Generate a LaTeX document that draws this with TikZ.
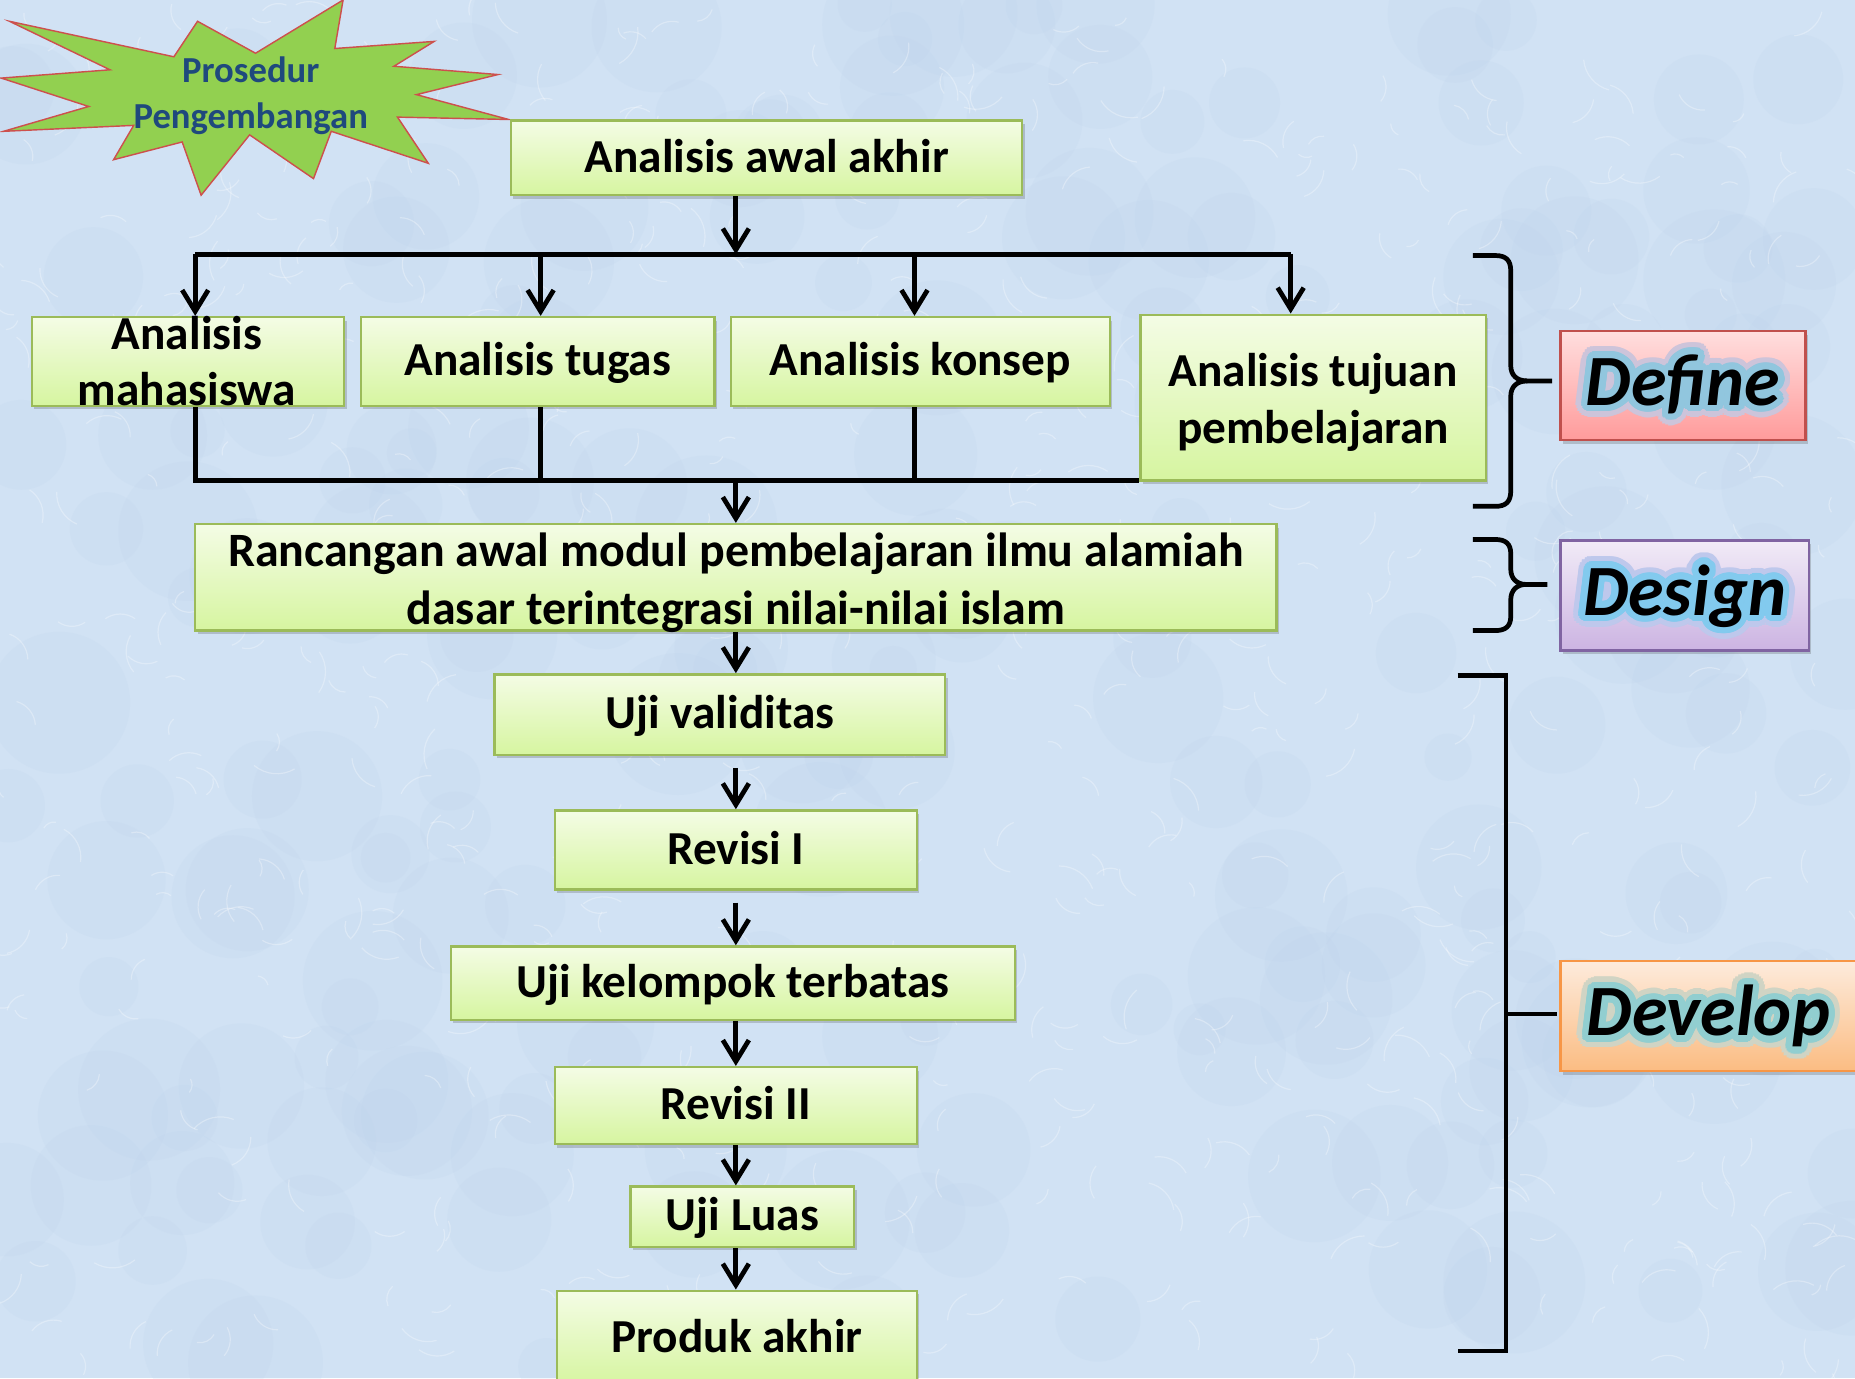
\documentclass[tikz,border=0pt]{standalone}
\usepackage{fontspec}
\setmainfont{Carlito}
\usetikzlibrary{arrows.meta,shadows}

\definecolor{bgblue}{RGB}{209,226,244}
\definecolor{bgdark}{RGB}{190,211,236}
\definecolor{boxtop}{RGB}{244,252,229}
\definecolor{boxbot}{RGB}{214,245,160}
\definecolor{boxline}{RGB}{155,187,89}
\definecolor{stargreen}{RGB}{146,208,80}
\definecolor{starline}{RGB}{205,80,77}
\definecolor{startext}{RGB}{31,73,125}
\definecolor{deftop}{RGB}{255,222,222}
\definecolor{defbot}{RGB}{255,155,155}
\definecolor{defline}{RGB}{192,80,77}
\definecolor{destop}{RGB}{241,235,247}
\definecolor{desbot}{RGB}{204,180,226}
\definecolor{desline}{RGB}{128,100,162}
\definecolor{devtop}{RGB}{253,235,220}
\definecolor{devbot}{RGB}{251,188,130}
\definecolor{devline}{RGB}{247,150,70}
\definecolor{glowdefin}{RGB}{145,198,222}
\definecolor{glowdefout}{RGB}{205,196,218}
\definecolor{glowdesin}{RGB}{130,202,238}
\definecolor{glowdesout}{RGB}{190,200,236}
\definecolor{glowdevin}{RGB}{145,206,208}
\definecolor{glowdevout}{RGB}{208,212,196}

\newcommand\glowring[3]{%
  \foreach \ga in {0,15,...,345}{%
    \pgfmathsetmacro\gx{#3*cos(\ga)}\pgfmathsetmacro\gy{#3*sin(\ga)}%
    \makebox[0pt][l]{\hspace*{\gx pt}\raisebox{\gy pt}{\textcolor{#2}{#1}}}}}
\newcommand\glowword[3]{\glowring{#1}{#3}{10}\glowring{#1}{#2}{5.5}#1}

\begin{document}
\begin{tikzpicture}[x=1pt,y=-1pt,
  box/.style={draw=boxline, line width=2pt, top color=boxtop, bottom color=boxbot,
    inner sep=0pt, font=\bfseries\fontsize{40}{48.5}\selectfont,
    text height=30pt, text depth=6pt,
    drop shadow={shadow xshift=2pt,shadow yshift=-3pt,opacity=0.25,fill=black!70}},
  boxtext/.style={inner sep=0pt, align=center, font=\bfseries\fontsize{40}{48.5}\selectfont},
  phase/.style={line width=2pt, inner sep=0pt, text height=45pt, text depth=12pt,
    font=\bfseries\itshape\fontsize{61}{70}\selectfont,
    drop shadow={shadow xshift=2pt,shadow yshift=-3pt,opacity=0.25,fill=black!70}},
  ln/.style={line width=4pt, black},
  arr/.style={line width=4pt, black, -{Straight Barb[length=18pt,width=22pt]}},
  brace/.style={line width=4pt, black, line join=round}]

\useasboundingbox (0,0) rectangle (1568,1165);
\clip (0,0) rectangle (1568,1165);
\fill[bgblue] (0,0) rectangle (1568,1165);
\pgfmathsetseed{11}
\foreach \i in {1,...,220}{%
  \pgfmathsetmacro\px{random(0,1568)}%
  \pgfmathsetmacro\py{random(0,1165)}%
  \pgfmathsetmacro\pr{random(20,60)}%
  \fill[bgdark,opacity=0.18] (\px,\py) circle[radius=\pr];
}
\foreach \i in {1,...,700}{%
  \pgfmathsetmacro\px{random(0,1568)}%
  \pgfmathsetmacro\py{random(0,1165)}%
  \pgfmathsetmacro\pa{random(0,360)}%
  \pgfmathsetmacro\pr{random(10,30)}%
  \draw[white,opacity=0.3,line width=1pt] (\px,\py) arc[start angle=\pa, delta angle=70, radius=\pr];
}

% star
\draw[fill=stargreen, draw=starline, line width=1.2pt, line join=miter]
  (8,18) -- (147,48) -- (167,18) -- (216,45) -- (290,0) -- (283,41) -- (367,35)
  -- (333,56) -- (421,63) -- (352,80) -- (430,101) -- (336,99) -- (362,138)
  -- (280,111) -- (265,151) -- (211,114) -- (170,165) -- (154,120) -- (96,135)
  -- (113,106) -- (3,111) -- (75,90) -- (1,66) -- (93,59) -- cycle;
\node[align=center, text=startext, font=\bfseries\fontsize{31}{39}\selectfont]
  (star) at (212,81) {Prosedur\\Pengembangan};

% boxes
\node[box, minimum width=432, minimum height=63] (a0) at (648,133.5) {Analisis awal akhir};
\node[box, minimum width=264, minimum height=75] (b1) at (159,305.5) {};
\node[boxtext, font=\bfseries\fontsize{40}{47}\selectfont] (b1t) at (158,305) {Analisis\\mahasiswa};
\node[box, minimum width=299, minimum height=75] (b2) at (454.5,305.5) {Analisis tugas};
\node[box, minimum width=320, minimum height=75] (b3) at (778,305.5) {Analisis konsep};
\node[box, minimum width=292, minimum height=140] (b4) at (1110,336) {};
\node[boxtext] (b4t) at (1110,340) {Analisis tujuan\\pembelajaran};
\node[box, minimum width=914, minimum height=90] (c) at (622,488) {};
\node[boxtext, font=\bfseries\fontsize{40.5}{49}\selectfont] (ct) at (622,492.5)
  {Rancangan awal modul pembelajaran ilmu alamiah\\dasar terintegrasi nilai-nilai islam};
\node[box, minimum width=381, minimum height=68] (d1) at (608.5,604) {Uji validitas};
\node[box, minimum width=306, minimum height=67] (d2) at (622,718.5) {Revisi I};
\node[box, minimum width=477, minimum height=62] (d3) at (619.5,831) {Uji kelompok terbatas};
\node[box, minimum width=306, minimum height=65] (d4) at (622,934.5) {Revisi II};
\node[box, minimum width=189, minimum height=51] (d5) at (627.5,1028.5) {Uji Luas};
\node[box, minimum width=304, minimum height=80] (d6) at (623,1131) {Produk akhir};

% phase labels
\node[phase, draw=defline, top color=deftop, bottom color=defbot, minimum width=207, minimum height=92]
  (def) at (1422.5,326) {\glowword{Define}{glowdefin}{glowdefout}};
\node[phase, draw=desline, top color=destop, bottom color=desbot, minimum width=210, minimum height=93]
  (des) at (1424,503.5) {\glowword{Design}{glowdesin}{glowdesout}};
\node[phase, draw=devline, top color=devtop, bottom color=devbot, minimum width=256, minimum height=93]
  (dev) at (1447,859) {\hspace*{-6pt}\glowword{Develop}{glowdevin}{glowdevout}};

% connectors
\coordinate (j1) at (622,215);
\coordinate (h1) at (165,215);
\coordinate (h2) at (457,215);
\coordinate (h3) at (773,215);
\coordinate (h4) at (1091,215);
\coordinate (k1) at (165,406);
\coordinate (k2) at (457,406);
\coordinate (k3) at (773,406);
\coordinate (j2) at (622,406);

\draw[ln] (h1) -- (h4);
\draw[arr] (a0.south -| j1) -- (j1);
\draw[arr] (h1) -- (h1 |- b1.north);
\draw[arr] (h2) -- (h2 |- b2.north);
\draw[arr] (h3) -- (h3 |- b3.north);
\draw[arr] (h4) -- (h4 |- b4.north);

\draw[ln] (b1.south -| k1) -- (k1) -- (k1 -| b4.west);
\draw[ln] (b2.south -| k2) -- (k2);
\draw[ln] (b3.south -| k3) -- (k3);
\draw[arr] (j2) -- (j2 |- c.north);

\draw[arr] (c.south -| j1) -- (d1.north -| j1);
\draw[arr, shorten <=10pt] (d1.south -| j1) -- (d2.north -| j1);
\draw[arr, shorten <=10pt] (d2.south -| j1) -- (d3.north -| j1);
\draw[arr] (d3.south -| j1) -- (d4.north -| j1);
\draw[arr] (d4.south -| j1) -- (d5.north -| j1);
\draw[arr] (d5.south -| j1) -- (d6.north -| j1);

% braces
\draw[brace] (1245,216) -- (1264,216) .. controls (1273,216) and (1277,220) .. (1277,229)
  -- (1277,309) .. controls (1277,317) and (1282,322) .. (1291,322) -- (1312,322);
\draw[brace] (1291,322) .. controls (1282,322) and (1277,327) .. (1277,335)
  -- (1277,415) .. controls (1277,424) and (1273,428) .. (1264,428) -- (1245,428);

\draw[brace] (1245,456) -- (1264,456) .. controls (1273,456) and (1277,460) .. (1277,468)
  -- (1277,481) .. controls (1277,489) and (1282,494) .. (1290,494) -- (1308,494);
\draw[brace] (1290,494) .. controls (1282,494) and (1277,499) .. (1277,507)
  -- (1277,521) .. controls (1277,529) and (1273,533) .. (1264,533) -- (1245,533);

\draw[brace, line join=miter] (1232,571) -- (1273,571) -- (1273,1142) -- (1232,1142);
\draw[brace] (1273,857) -- (1316,857);
\end{tikzpicture}
\end{document}
